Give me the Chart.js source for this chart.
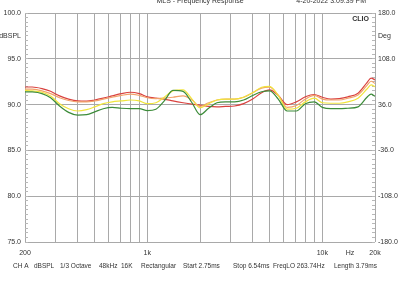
<!DOCTYPE html>
<html><head><meta charset="utf-8">
<script src="https://cdn.jsdelivr.net/npm/chart.js@4"></script>
<style>html,body{margin:0;padding:0;background:#fff;}canvas{display:block;}</style>
</head><body>
<canvas id="c" width="400" height="284"></canvas>
<script>
const freqs = [200,220,250,280,315,355,400,450,500,560,630,710,800,900,1000,1120,1250,1400,1600,1800,2000,2240,2500,2800,3150,3550,4000,4500,5000,5600,6300,7100,8000,9000,10000,11200,12500,14000,16000,18000,19000,20000];
const redSeries    = [91.92,91.92,91.75,91.45,90.95,90.6,90.4,90.38,90.5,90.7,90.95,91.2,91.35,91.2,90.85,90.7,90.6,90.4,90.2,90.05,89.95,89.8,89.75,89.8,89.85,90.1,90.6,91.3,91.6,91.0,90.0,90.3,90.85,91.1,90.8,90.6,90.65,90.85,91.25,92.4,92.9,92.7];
const orangeSeries = [91.7,91.68,91.5,91.2,90.75,90.45,90.3,90.3,90.4,90.6,90.8,91.0,91.15,91.0,90.75,90.65,90.7,90.8,90.95,90.5,89.8,90.2,90.5,90.6,90.6,90.8,91.3,91.8,91.9,91.0,89.7,89.9,90.6,91.0,90.6,90.5,90.5,90.7,91.05,92.1,92.55,92.3];
const yellowSeries = [91.55,91.5,91.35,90.95,90.1,89.55,89.3,89.45,89.75,90.1,90.3,90.4,90.5,90.4,90.1,90.2,90.8,91.5,91.6,90.6,89.65,90.1,90.5,90.6,90.6,90.8,91.3,91.9,92.0,91.0,89.5,89.6,90.3,90.7,90.2,90.15,90.15,90.3,90.7,91.7,92.15,91.95];
const greenSeries  = [91.4,91.38,91.2,90.75,89.85,89.15,88.85,88.9,89.2,89.55,89.7,89.6,89.55,89.55,89.35,89.5,90.4,91.55,91.45,90.2,88.9,89.6,90.2,90.3,90.3,90.5,91.0,91.4,91.5,90.6,89.3,89.3,90.1,90.3,89.7,89.55,89.55,89.6,89.75,90.8,91.15,90.9];

const xGridFreqs = [200,300,400,500,600,700,800,900,1000,2000,3000,4000,5000,6000,7000,8000,9000,10000,14400,20000];
const xTickLabels = {200:'200',1000:'1k',10000:'10k',14400:'Hz',20000:'20k'};
const yTicks = [75,80,85,90,95,97.5,100];
const yTickLabels = {75:'75.0',80:'80.0',85:'85.0',90:'90.0',95:'95.0',97.5:'dBSPL',100:'100.0'};
const degTicks = [-180,-108,-36,36,108,144,180];
const degTickLabels = {'-180':'-180.0','-108':'-108.0','-36':'-36.0','36':'36.0','108':'108.0','144':'Deg','180':'180.0'};

const headerTitle = 'MLS - Frequency Response';
const headerDate = '4-20-2022 3:09:39 PM';
const brand = 'CLIO';
const footerItems = ['CH A','dBSPL','1/3 Octave','48kHz','16K','Rectangular','Start 2.75ms','Stop 6.54ms','FreqLO 263.74Hz','Length 3.79ms'];
const footerX = [13,34,60,99,121,141,183,233,273,334];

const FONT = '"Liberation Sans", Arial, sans-serif';
const gridCol = '#a9a9a9';
const txtCol = '#333';

function mk(label, arr, color){
  return {label, data: freqs.map((f,i)=>({x:f,y:arr[i]})), borderColor: color, borderWidth: 1.2,
    pointRadius: 0, fill:false, cubicInterpolationMode:'monotone'};
}

const textPlugin = {
  id:'texts',
  afterDraw(chart){
    const ctx = chart.ctx;
    ctx.save();
    ctx.fillStyle = txtCol;
    ctx.font = '7px ' + FONT;
    ctx.textBaseline = 'alphabetic';
    ctx.textAlign = 'center';
    ctx.fillText(headerTitle, 200, 3);
    ctx.textAlign = 'right';
    ctx.fillText(headerDate, 366, 3);
    ctx.font = 'bold 7px ' + FONT;
    ctx.fillText(brand, 369, 21);
    ctx.font = '6.5px ' + FONT;
    ctx.textAlign = 'left';
    footerItems.forEach((t,i)=>ctx.fillText(t, footerX[i], 268));
    ctx.restore();
  }
};

const tickFont = {family:FONT,size:7};

new Chart(document.getElementById('c'), {
  type:'line',
  data:{datasets:[
    mk('green', greenSeries, '#3d8c3a'),
    mk('yellow', yellowSeries, '#f0e43c'),
    mk('orange', orangeSeries, '#f2a26a'),
    mk('red', redSeries, '#d9423f')
  ]},
  options:{
    responsive:false, animation:false, devicePixelRatio:1,
    layout:{padding:{top:13,bottom:24,left:0,right:0}},
    plugins:{legend:{display:false}, tooltip:{enabled:false}},
    scales:{
      x:{type:'logarithmic', min:200, max:20000,
        afterBuildTicks:(s)=>{s.ticks = xGridFreqs.map(v=>({value:v}));},
        afterFit:(s)=>{s.height = 18;},
        ticks:{autoSkip:false, maxRotation:0, padding:7, color:txtCol, font:tickFont,
          callback:(v)=> xTickLabels[v] || ''},
        grid:{drawTicks:false, color:(c)=> (c.tick && c.tick.value===14400) ? 'rgba(0,0,0,0)' : gridCol, lineWidth:1},
        border:{display:false}
      },
      y:{type:'linear', position:'left', min:75, max:100, weight:1,
        afterBuildTicks:(s)=>{s.ticks = yTicks.map(v=>({value:v}));},
        afterFit:(s)=>{s.width = 25;},
        ticks:{padding:4, color:txtCol, font:tickFont, callback:(v)=> yTickLabels[v] || ''},
        grid:{drawTicks:false, color:(c)=> (c.tick && c.tick.value===97.5) ? 'rgba(0,0,0,0)' : gridCol, lineWidth:1},
        border:{display:false}
      },
      yMinor:{type:'linear', position:'left', min:75, max:100, weight:0,
        afterFit:(s)=>{s.width = 0;},
        ticks:{display:false, stepSize:0.5, autoSkip:false},
        grid:{drawOnChartArea:false, drawTicks:true, tickLength:-3, color:'#b8b8b8', lineWidth:1},
        border:{display:false}
      },
      y2:{type:'linear', position:'right', min:-180, max:180, weight:1,
        afterBuildTicks:(s)=>{s.ticks = degTicks.map(v=>({value:v}));},
        afterFit:(s)=>{s.width = 25;},
        ticks:{padding:3, color:txtCol, font:tickFont, callback:(v)=> degTickLabels[String(v)] || ''},
        grid:{drawOnChartArea:false, drawTicks:false},
        border:{display:false}
      },
      y2Minor:{type:'linear', position:'right', min:-180, max:180, weight:0,
        afterFit:(s)=>{s.width = 0;},
        ticks:{display:false, stepSize:7.2, autoSkip:false},
        grid:{drawOnChartArea:false, drawTicks:true, tickLength:-3, color:'#b8b8b8', lineWidth:1},
        border:{display:false}
      }
    }
  },
  plugins:[textPlugin]
});
</script>
</body></html>
